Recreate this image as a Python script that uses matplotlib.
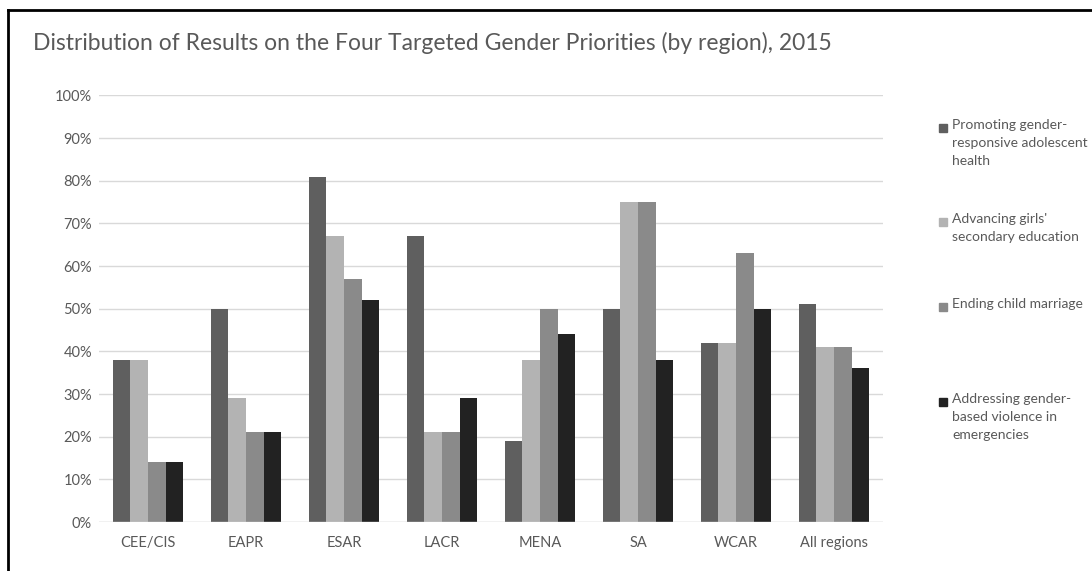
import numpy as np
import matplotlib
matplotlib.use("Agg")
import matplotlib.pyplot as plt
from matplotlib.ticker import PercentFormatter

# data
regions = ["CEE/CIS", "EAPR", "ESAR", "LACR", "MENA", "SA", "WCAR", "All regions"]
adolescent_health = [38, 50, 81, 67, 19, 50, 42, 51]
girls_education = [38, 29, 67, 21, 38, 75, 42, 41]
child_marriage = [14, 21, 57, 21, 50, 75, 63, 41]
gbv_emergencies = [14, 21, 52, 29, 44, 38, 50, 36]

series_names = [
    "Promoting gender-\nresponsive adolescent\nhealth",
    "Advancing girls'\nsecondary education",
    "Ending child marriage",
    "Addressing gender-\nbased violence in\nemergencies",
]
series_colors = ["#5f5f5f", "#b3b3b3", "#8a8a8a", "#222222"]

plt.rcParams['font.family'] = ['Lato', 'DejaVu Sans']
txt = "#595959"

fig = plt.figure(figsize=(10.92, 5.71), dpi=100)
ax = fig.add_axes([0.0907, 0.0858, 0.8086 - 0.0907, 0.8328 - 0.0858])

x = np.arange(len(regions))
w = 0.18
all_series = [adolescent_health, girls_education, child_marriage, gbv_emergencies]
for k, vals in enumerate(all_series):
    ax.bar(x + (k - 1.5) * w, np.array(vals) / 100, width=w,
           color=series_colors[k], zorder=3, label=series_names[k])

ax.set_xlim(-0.5, len(regions) - 0.5)
ax.set_ylim(0, 1)
ax.set_yticks(np.arange(0, 1.01, 0.1))
ax.yaxis.set_major_formatter(PercentFormatter(1.0, decimals=0))
ax.set_xticks(x)
ax.set_xticklabels(regions)
ax.tick_params(axis='both', length=0, colors=txt, labelsize=10.5)
ax.tick_params(axis='y', pad=5)
ax.tick_params(axis='x', pad=10)
ax.grid(axis='y', color="#d9d9d9", linewidth=1, zorder=0)
for s in ax.spines.values():
    s.set_visible(False)
ax.axhline(0, color="#d9d9d9", linewidth=1, zorder=4)

fig.text(33 / 1092, 1 - 43 / 571,
         "Distribution of Results on the Four Targeted Gender Priorities (by region), 2015",
         fontsize=16.5, color=txt, va='center', ha='left')

# legend, placed like the reference (right side, spaced entries)
leg_y = [128, 222, 307, 402]
for k in range(4):
    yy = 1 - leg_y[k] / 571
    fig.patches.append(plt.Rectangle((939 / 1092, yy - 4 / 571), 8 / 1092, 8 / 571,
                                     transform=fig.transFigure, color=series_colors[k]))
    fig.text(952 / 1092, yy + 9 / 571, series_names[k], fontsize=10, color=txt,
             va='top', ha='left', linespacing=1.62)

# outer frame (top and left edges are visible in the reference)
fig.add_artist(plt.Line2D([8 / 1092, 1.01], [1 - 10 / 571, 1 - 10 / 571],
                          transform=fig.transFigure, color="black", linewidth=2))
fig.add_artist(plt.Line2D([8 / 1092, 8 / 1092], [-0.01, 1 - 10 / 571],
                          transform=fig.transFigure, color="black", linewidth=2))

fig.savefig("out.png", dpi=100)
